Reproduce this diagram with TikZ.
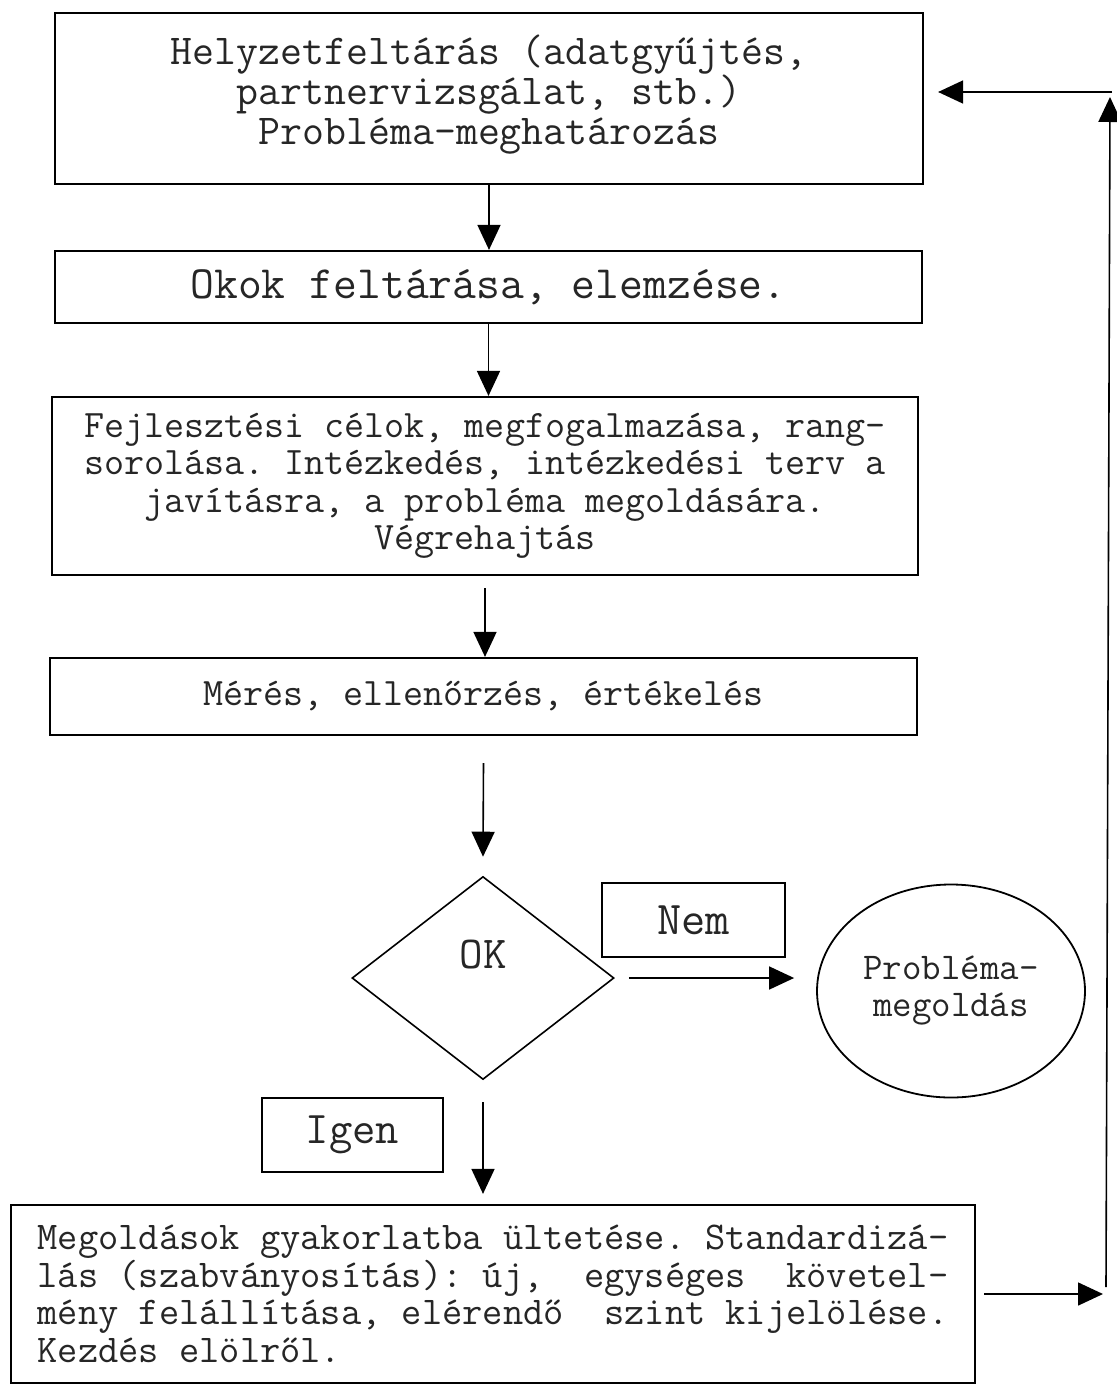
\documentclass[tikz,border=0pt]{standalone}
\usepackage{fontspec}
\usetikzlibrary{arrows.meta,shapes.geometric}
\newcommand\fixsp{\frenchspacing\fontdimen3\font=0pt\fontdimen4\font=0pt\fontdimen7\font=0pt}
\tikzset{
  boxstyle/.style={draw=black, line width=2.2pt, rectangle, inner sep=0pt, text=black!85, align=center},
  lblbox/.style={draw=black, line width=2pt, rectangle, inner sep=0pt, text=black!85},
  arr/.style={line width=1.6pt, -{Triangle[length=25pt,width=23pt]}},
}
\begin{document}
\begin{tikzpicture}[x=1pt,y=-1pt]
\useasboundingbox[fill=white] (0,0) rectangle (1117,1385);

\node[boxstyle, minimum width=868pt, minimum height=171pt,
      font={\ttfamily\fontsize{42.6}{40}\selectfont\fixsp}] (b1) at (489,98.5)
  {Helyzetfeltárás (adatgyűjtés,\\partnervizsgálat, stb.)\\Probléma-meghatározás\\[-22pt]\mbox{}};

\node[boxstyle, minimum width=867pt, minimum height=72pt,
      font={\ttfamily\fontsize{46.3}{44}\selectfont\fixsp}] (b2) at (488.5,287)
  {Okok feltárása, elemzése.};

\node[boxstyle, minimum width=866pt, minimum height=178pt,
      font={\ttfamily\fontsize{38.9}{37.5}\selectfont\fixsp}] (b3) at (485,486)
  {Fejlesztési célok, megfogalmazása, rang-\\sorolása. Intézkedés, intézkedési terv a\\javításra, a probléma megoldására.\\Végrehajtás};

\node[boxstyle, minimum width=867pt, minimum height=77pt,
      font={\ttfamily\fontsize{38.9}{37.5}\selectfont\fixsp}] (b4) at (483.5,696.5)
  {\raisebox{6pt}{Mérés, ellenőrzés, értékelés}};

\node[draw=black, line width=1.6pt, diamond, minimum width=262pt, minimum height=203pt,
      inner sep=0pt, text=black!85, font={\ttfamily\fontsize{45.7}{44}\selectfont}] (dia) at (483,978)
  {\raisebox{10pt}[0pt][0pt]{OK}};

\node[lblbox, minimum width=183pt, minimum height=74pt,
      font={\ttfamily\fontsize{47}{44}\selectfont}] (nem) at (693.5,920) {Nem};

\node[draw=black, line width=1.8pt, ellipse, minimum width=268pt, minimum height=213pt,
      inner sep=0pt, text=black!85, align=center,
      font={\ttfamily\fontsize{37.8}{37}\selectfont}] (ell) at (951,991)
  {Probléma-\\megoldás};

\node[lblbox, minimum width=181pt, minimum height=74pt,
      font={\ttfamily\fontsize{45.3}{44}\selectfont}] (igen) at (352.5,1135) {Igen};

\node[boxstyle, minimum width=964pt, minimum height=178pt, align=left,
      font={\ttfamily\fontsize{39.3}{37.7}\selectfont\fixsp}] (b5) at (493,1294)
  {Megoldások gyakorlatba ültetése. Standardizá-\\lás (szabványosítás):~új,~~egységes~~követel-\\mény felállítása, elérendő~~szint kijelölése.\\Kezdés elölről.};

% connectors
\draw[arr] (b1.south) -- (b1.south |- b2.north);
\draw[arr] (b2.south) -- (b2.south |- b3.north);
\draw[arr] ([yshift=-12pt]b3.south) -- (b3.south |- b4.north);
\draw[arr] ([yshift=-27pt]b4.south) -- ([yshift=19pt]dia.north);
\draw[arr] ([xshift=14pt]dia.east) -- ([xshift=-22pt]dia.east -| ell.west);
\draw[arr] ([yshift=-22pt]dia.south) -- ([yshift=10pt]dia.south |- b5.north);

\coordinate (rA) at ([xshift=8pt]b5.east);
\coordinate (rB) at (1103,1294);
\coordinate (vA) at (1106,1287);
\coordinate (vB) at (1110,97);
\coordinate (hA) at (1112,92);
\coordinate (tip) at ([xshift=14pt]b1.east);
\draw[arr] (rA) -- (rB);
\draw[arr] (vA) -- (vB);
\draw[arr] (hA) -- (hA -| tip);
\end{tikzpicture}
\end{document}
